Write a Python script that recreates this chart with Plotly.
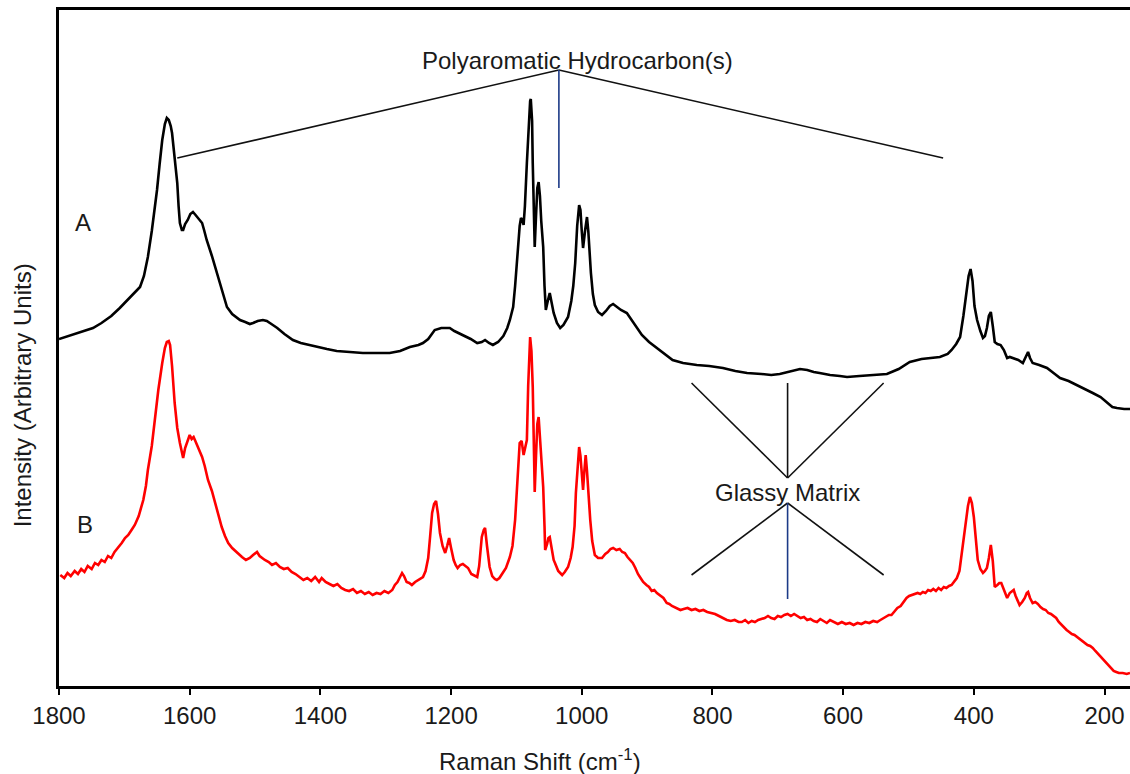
import plotly.graph_objects as go

# Spectrum A (black) - Raman shift (cm^-1) and intensity (arbitrary units)
shift_a = [1800, 1790, 1780, 1770, 1760, 1748, 1735, 1720, 1707, 1695, 1685, 1676, 1670, 1664, 1658,
           1653, 1650, 1646, 1642, 1638, 1635, 1632, 1629, 1627, 1623, 1619, 1617, 1615, 1612, 1610,
           1607, 1603, 1599, 1595, 1591, 1587, 1581, 1578, 1574, 1566, 1558, 1550, 1543, 1535, 1528,
           1523, 1515, 1508, 1503, 1496, 1488, 1482, 1475, 1466, 1455, 1442, 1430, 1418, 1405, 1390,
           1375, 1355, 1335, 1315, 1294, 1278, 1263, 1250, 1243, 1235, 1228, 1225, 1215, 1202, 1195,
           1182, 1170, 1160, 1153, 1148, 1142, 1136, 1128, 1120, 1114, 1110, 1105, 1102, 1098, 1095,
           1093, 1091, 1089, 1087, 1084, 1081, 1079, 1078, 1076, 1075, 1073, 1072, 1070, 1068, 1066,
           1064, 1062, 1059, 1057, 1055, 1052, 1049, 1046, 1043, 1038, 1033, 1028, 1021, 1016, 1013,
           1010, 1007, 1004, 1002, 1000, 998, 995, 992, 990, 988, 986, 983, 980, 975, 969, 963, 957,
           952, 946, 940, 931, 924, 916, 908, 897, 885, 873, 861, 845, 824, 805, 784, 765, 747, 725,
           710, 697, 685, 676, 666, 655, 645, 636, 620, 605, 594, 575, 554, 540, 533, 515, 498, 480,
           465, 452, 440, 434, 427, 421, 416, 412, 408, 405, 402, 399, 395, 390, 386, 383, 380, 377,
           374, 371, 368, 364, 359, 354, 349, 345, 340, 332, 325, 321, 317, 314, 310, 300, 288, 278,
           268, 255, 242, 230, 218, 206, 196, 188, 181, 170, 161]
int_a = [347, 349, 351, 353, 355, 358, 363, 370, 378, 386, 393, 399, 410, 429, 455,
         480, 496, 522, 546, 562, 568, 566, 560, 553, 530, 503, 480, 463, 456, 456,
         462, 466, 472, 474, 471, 468, 463, 456, 446, 430, 413, 395, 379, 372, 368,
         366, 364, 362, 363, 365, 366, 365, 362, 358, 352, 346, 343, 341, 339, 337,
         335, 334, 333, 333, 333, 335, 339, 341, 343, 347, 353, 356, 358, 358, 355,
         351, 347, 343, 344, 346, 343, 341, 344, 350, 358, 366, 379, 400, 439, 460,
         468, 466, 461, 480, 523, 565, 585, 587, 565, 523, 470, 439, 470, 498, 504,
         490, 465, 439, 400, 376, 385, 393, 383, 373, 363, 358, 361, 369, 385, 400,
         423, 460, 481, 476, 455, 438, 455, 469, 455, 430, 413, 392, 381, 374, 371, 375, 380,
         382, 379, 376, 373, 366, 359, 351, 344, 338, 332, 326, 323, 321, 320, 318, 315, 313, 312,
         311, 312, 314, 316, 317, 316, 314, 313, 311, 310, 309, 310, 311, 311, 312, 317, 324, 327,
         328, 329, 332, 336, 342, 349, 370, 393, 410, 417, 405, 380, 366, 355, 348, 350, 358, 370,
         374, 360, 344, 342, 341, 336, 328, 329, 328, 326, 323, 328, 334, 328, 323, 321, 318, 313,
         308, 305, 301, 297, 293, 289, 283, 279, 278, 277, 277]

# Spectrum B (red)
shift_b = [1798, 1792, 1787, 1782, 1776, 1771, 1766, 1761, 1756, 1750, 1745, 1740, 1735, 1730, 1725,
           1720, 1715, 1710, 1704, 1699, 1694, 1689, 1684, 1678, 1671, 1667, 1664, 1658, 1653, 1648,
           1642, 1638, 1635, 1632, 1630, 1627, 1623, 1619, 1615, 1612, 1610, 1607, 1604, 1602, 1600,
           1597, 1594, 1592, 1588, 1585, 1581, 1577, 1572, 1566, 1561, 1556, 1551, 1546, 1541, 1535,
           1530, 1525, 1520, 1514, 1508, 1503, 1497, 1493, 1489, 1485, 1479, 1474, 1468, 1462, 1456,
           1450, 1444, 1438, 1432, 1426, 1420, 1414, 1408, 1402, 1398, 1392, 1386, 1380, 1374, 1368,
           1362, 1356, 1350, 1344, 1338, 1332, 1326, 1320, 1314, 1308, 1302, 1296, 1290, 1286, 1282,
           1278, 1275, 1272, 1268, 1264, 1260, 1255, 1250, 1246, 1243, 1239, 1235, 1232, 1229, 1226,
           1223, 1220, 1217, 1213, 1209, 1206, 1203, 1200, 1196, 1193, 1190, 1186, 1182, 1178, 1174,
           1169, 1165, 1160, 1157, 1153, 1150, 1148, 1145, 1141, 1137, 1133, 1130, 1126, 1121, 1116,
           1110, 1106, 1102, 1099, 1095, 1092, 1089, 1086, 1084, 1082, 1080, 1079, 1077, 1075, 1073,
           1072, 1070, 1068, 1066, 1064, 1061, 1059, 1057, 1056, 1053, 1051, 1049, 1046, 1043, 1041,
           1036, 1030, 1026, 1021, 1017, 1014, 1011, 1009, 1006, 1004, 1002, 1000, 998, 996, 994,
           992, 990, 987, 984, 980, 975, 969, 964, 960, 956, 952, 947, 942, 938, 934,
           930, 926, 922, 918, 914, 910, 906, 901, 897, 893, 889, 885, 880, 875, 870,
           866, 862, 858, 854, 849, 844, 838, 832, 826, 820, 814, 808, 802, 796, 790,
           784, 778, 772, 766, 760, 755, 750, 745, 740, 735, 730, 725, 720, 715, 710,
           705, 700, 695, 690, 685, 680, 675, 670, 665, 660, 655, 650, 645, 640, 635,
           630, 625, 620, 614, 608, 602, 596, 590, 584, 578, 572, 566, 560, 554, 548,
           543, 538, 534, 530, 526, 521, 517, 512, 508, 503, 499, 495, 490, 486, 482,
           478, 474, 470, 466, 462, 458, 454, 450, 446, 442, 438, 434, 430, 426, 422,
           418, 415, 412, 409, 406, 403, 400, 397, 394, 390, 386, 383, 380, 377, 374,
           371, 368, 364, 361, 358, 354, 351, 349, 345, 342, 339, 336, 333, 330, 326,
           322, 319, 317, 314, 310, 306, 302, 298, 294, 290, 286, 282, 278, 274, 270,
           266, 262, 258, 254, 250, 246, 242, 238, 234, 230, 226, 222, 218, 214, 210,
           206, 202, 198, 194, 190, 186, 182, 178, 172, 166, 161]
int_b = [111, 108, 113, 110, 115, 112, 117, 114, 120, 117, 123, 121, 126, 124, 130,
         128, 134, 138, 143, 148, 151, 156, 161, 170, 186, 200, 216, 240, 269, 296,
         323, 338, 344, 345, 341, 320, 283, 258, 243, 232, 228, 238, 243, 248, 251,
         247, 249, 246, 240, 236, 229, 220, 206, 195, 183, 172, 159, 150, 143, 138,
         135, 131, 129, 126, 128, 131, 134, 130, 128, 126, 124, 121, 123, 119, 117,
         118, 114, 112, 109, 106, 108, 105, 109, 104, 108, 104, 102, 100, 102, 98,
         96, 95, 97, 93, 95, 92, 94, 91, 93, 92, 95, 93, 96, 101, 104,
         110, 113, 110, 104, 103, 101, 104, 106, 108, 109, 115, 128, 150, 173, 182,
         185, 172, 153, 140, 133, 140, 148, 138, 126, 121, 118, 121, 122, 120, 118,
         112, 111, 109, 120, 149, 156, 158, 140, 119, 110, 107, 106, 108, 113, 118,
         129, 140, 166, 200, 243, 245, 231, 240, 246, 300, 345, 349, 335, 299, 230,
         194, 230, 262, 269, 250, 225, 199, 160, 136, 142, 148, 149, 138, 126, 123,
         115, 111, 114, 119, 128, 139, 160, 193, 225, 239, 230, 210, 196, 215, 231,
         215, 190, 166, 145, 131, 128, 128, 132, 134, 137, 138, 136, 137, 134, 133,
         129, 126, 123, 118, 112, 108, 104, 101, 99, 95, 96, 93, 90, 88, 83,
         82, 80, 79, 78, 76, 77, 78, 76, 77, 75, 76, 74, 73, 72, 70,
         68, 66, 65, 66, 64, 64, 66, 63, 65, 64, 66, 67, 68, 70, 68,
         67, 70, 69, 71, 72, 70, 72, 70, 68, 69, 66, 67, 65, 64, 67,
         65, 63, 66, 64, 62, 64, 62, 63, 61, 63, 62, 64, 63, 65, 64,
         66, 68, 70, 71, 71, 75, 78, 80, 84, 88, 90, 91, 92, 93, 92,
         94, 93, 96, 95, 97, 95, 98, 96, 99, 98, 100, 101, 104, 108, 115,
         136, 150, 166, 180, 189, 183, 169, 148, 126, 117, 113, 115, 118, 128, 141,
         125, 99, 101, 103, 103, 97, 92, 88, 93, 95, 96, 90, 86, 81, 84,
         88, 93, 94, 88, 83, 84, 82, 79, 77, 76, 73, 72, 70, 68, 64,
         61, 59, 56, 54, 52, 51, 49, 47, 45, 43, 41, 40, 38, 35, 32,
         29, 26, 24, 21, 18, 15, 14, 13, 13, 12, 13]

x_ticks = [1800, 1600, 1400, 1200, 1000, 800, 600, 400, 200]

fig = go.Figure()
fig.add_trace(go.Scatter(x=shift_a, y=int_a, mode="lines",
                         line=dict(color="black", width=2.6),
                         showlegend=False, hoverinfo="skip"))
fig.add_trace(go.Scatter(x=shift_b, y=int_b, mode="lines",
                         line=dict(color="#ff0000", width=2.6),
                         showlegend=False, hoverinfo="skip"))

black = "#111111"
navy = "#1c3a87"
ann_lines = [
    # Polyaromatic hydrocarbon(s)
    (1035, 616, 1619, 528, black),
    (1035, 616, 447, 528, black),
    (1035, 616, 1035, 498, navy),
    # Glassy matrix upper
    (832, 303, 685, 208, black),
    (538, 303, 685, 208, black),
    (685, 303, 685, 208, black),
    # Glassy matrix lower
    (832, 111, 685, 183, black),
    (538, 111, 685, 183, black),
    (685, 183, 685, 87, navy),
]
for x0, y0, x1, y1, c in ann_lines:
    fig.add_shape(type="line", x0=x0, y0=y0, x1=x1, y1=y1, xref="x", yref="y",
                  line=dict(color=c, width=1.6))

font = "Liberation Sans, Arial, sans-serif"
tc = "#1a1a1a"
fig.add_annotation(x=1006, y=626, text="Polyaromatic Hydrocarbon(s)", showarrow=False,
                   font=dict(size=24, color=tc, family=font), xref="x", yref="y")
fig.add_annotation(x=685, y=194, text="Glassy Matrix", showarrow=False,
                   font=dict(size=24, color=tc, family=font), xref="x", yref="y")
fig.add_annotation(x=1763, y=464, text="A", showarrow=False,
                   font=dict(size=24, color=tc, family=font), xref="x", yref="y")
fig.add_annotation(x=1760, y=162, text="B", showarrow=False,
                   font=dict(size=24, color=tc, family=font), xref="x", yref="y")
fig.add_annotation(x=-0.0345, y=0.43, xref="paper", yref="paper", textangle=-90,
                   xanchor="center", yanchor="middle",
                   text="Intensity (Arbitrary Units)", showarrow=False,
                   font=dict(size=24, color=tc, family=font))
fig.add_annotation(x=0.449, y=-0.1095, xref="paper", yref="paper",
                   xanchor="center", yanchor="middle",
                   text="Raman Shift (cm<sup>-1</sup>)", showarrow=False,
                   font=dict(size=24, color=tc, family=font))

fig.update_layout(
    width=1130, height=774,
    margin=dict(l=59, r=0, t=10, b=88),
    paper_bgcolor="white", plot_bgcolor="white",
    font=dict(family=font, color=tc, size=24),
    xaxis=dict(range=[1800, 161], tickvals=x_ticks, ticks="outside", ticklen=6,
               tickwidth=2, tickcolor="black", showline=True, linecolor="black", linewidth=2.5,
               mirror=True, showgrid=False, zeroline=False,
               tickfont=dict(size=24, family=font, color=tc)),
    yaxis=dict(range=[0, 676], showticklabels=False, ticks="", showline=True,
               linecolor="black", linewidth=2.5, showgrid=False, zeroline=False),
)
fig.write_html("out.html", config={"displayModeBar": False},
               post_script="document.body.style.margin='0';document.body.style.padding='0';")
